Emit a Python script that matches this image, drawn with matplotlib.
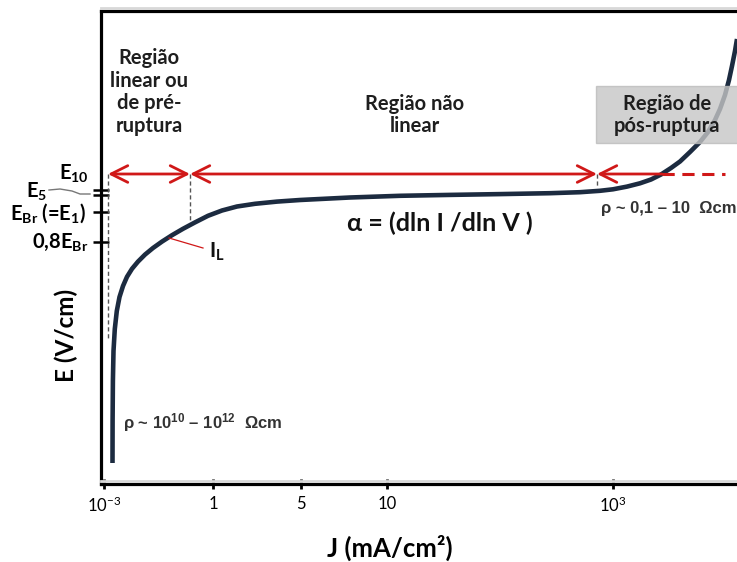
import numpy as np
import matplotlib
matplotlib.use("Agg")
import matplotlib.pyplot as plt
from matplotlib.patches import Rectangle
from matplotlib.lines import Line2D

plt.rcParams['font.family'] = ['Lato', 'DejaVu Sans']
plt.rcParams['mathtext.fontset'] = 'custom'
plt.rcParams['mathtext.rm'] = 'Lato'
plt.rcParams['mathtext.bf'] = 'Lato:bold'
plt.rcParams['mathtext.default'] = 'regular'

# axis units: schematic positions along J (x) and E (y)
x_ticks = [3, 112, 200, 286, 512]
x_ticklabels = ['$10^{-3}$', '1', '5', '10', '$10^{3}$']
y_ticks = [294, 289, 272, 242]

# I-V curve of the varistor (schematic)
curve_x = [11.5, 11.6, 11.9, 12.5, 13.8, 15.8, 18.5, 22, 26, 31, 37, 44, 52, 61, 71, 82, 94,
           107, 121, 136, 154, 176, 199, 249, 299, 349, 399, 449, 479, 499, 512, 526, 539, 550,
           560, 570, 579, 589, 599, 607, 614, 619, 624, 628, 631, 634, 636]
curve_y = [21, 63, 103, 133, 155, 173, 187, 198, 207.2, 215.2, 222.4, 229.4, 236, 242.4, 248.8,
           255.2, 261.6, 268.2, 273.5, 277.5, 280.2, 282.4, 284, 286.5, 288.2, 289.1, 289.9,
           290.8, 291.8, 293.2, 294.7, 297.4, 300.7, 304.5, 309.5, 316, 322.5, 332, 342, 352,
           364, 375, 389, 404, 418, 433, 445]

arrow_y = 310
region_bounds = [7, 89, 496]      # limits of the three regions
dash_tops = [145, 264, 298]        # bottoms of the dashed markers
solid_end = 561
dash_end = 624

red = '#d01818'
navy = '#1c2b40'
txt = '#1e1e1e'

fig = plt.figure(figsize=(7.37, 5.62), dpi=100)
ax = fig.add_axes([101 / 737, 1 - 484 / 562, 1 - 101 / 737, (484 - 11) / 562])
ax.set_xlim(0, 636)
ax.set_ylim(0, 473)

# soft shadow along the frame lines
fig.add_artist(Line2D([101 / 737, 1], [1 - 8 / 562, 1 - 8 / 562], color='#d8d8d8', lw=2))
fig.add_artist(Line2D([101 / 737, 1], [1 - 481 / 562, 1 - 481 / 562], color='#d8d8d8', lw=2))

for s in ['left', 'top', 'bottom']:
    ax.spines[s].set_linewidth(2.3)
ax.spines['right'].set_visible(False)

ax.set_xticks(x_ticks)
ax.set_xticklabels(x_ticklabels, fontsize=12)
ax.tick_params(axis='x', direction='inout', length=7, width=2, pad=5)
ax.set_yticks(y_ticks)
ax.set_yticklabels([])
ax.tick_params(axis='y', direction='inout', length=11, width=1.8)

ax.set_xlabel('J (mA/cm²)', fontsize=18.5, fontweight='bold')
ax.xaxis.set_label_coords(0.454, -0.108)
ax.set_ylabel('E (V/cm)', fontsize=17.5, fontweight='bold')
ax.yaxis.set_label_coords(-0.036, 0.315)

# curve
ax.plot(curve_x, curve_y, color=navy, lw=3.3, solid_capstyle='butt', solid_joinstyle='round', zorder=3)

# dashed markers
for xb, yb in zip(region_bounds, dash_tops):
    ax.plot([xb, xb], [arrow_y, yb], color='#555555', lw=1, ls=(0, (3, 2)), zorder=2)

# red arrows
aprops = dict(arrowstyle='<->, head_length=0.6, head_width=0.3', color=red, lw=2,
              shrinkA=0, shrinkB=0, mutation_scale=20)
ax.annotate('', xy=(region_bounds[0], arrow_y), xytext=(region_bounds[1], arrow_y), arrowprops=aprops, zorder=4)
ax.annotate('', xy=(region_bounds[1], arrow_y), xytext=(region_bounds[2], arrow_y), arrowprops=aprops, zorder=4)
ax.annotate('', xy=(region_bounds[2], arrow_y), xytext=(solid_end, arrow_y),
            arrowprops=dict(arrowstyle='->, head_length=0.6, head_width=0.3', color=red, lw=2,
                            shrinkA=0, shrinkB=0, mutation_scale=20), zorder=4)
ax.plot([solid_end, dash_end], [arrow_y, arrow_y], color=red, lw=2.2, ls=(0, (4, 2.5)), zorder=4)

# grey box for post-breakdown region
ax.add_patch(Rectangle((495, 341), 160, 57, facecolor='#c6c6c6', edgecolor='#bbbbbb',
                       alpha=0.8, zorder=5, clip_on=False))
ax.text(566, 369, 'Região de\npós-ruptura', ha='center', va='center', fontsize=14.5,
        fontweight='bold', color=txt, linespacing=1.15, zorder=6)

ax.text(48, 392, 'Região\nlinear ou\nde pré-\nruptura', ha='center', va='center', fontsize=14.5,
        fontweight='bold', color=txt, linespacing=1.15)
ax.text(314, 369, 'Região não\nlinear', ha='center', va='center', fontsize=14.5,
        fontweight='bold', color=txt, linespacing=1.15)
ax.text(339, 261, 'α = (dln I /dln V )', ha='center', va='center', fontsize=18,
        fontweight='bold', color='#111111')

ax.text(500, 276, 'ρ ~ 0,1 – 10  Ωcm', ha='left', va='center', fontsize=12,
        family=['Liberation Sans', 'DejaVu Sans'], fontweight='bold', color='#333333')
ax.text(22, 61, 'ρ ~ 10$^{10}$ – 10$^{12}$  Ωcm', ha='left', va='center', fontsize=12,
        family=['Liberation Sans', 'DejaVu Sans'], fontweight='bold', color='#333333')

# I_L marker
ax.plot([68, 102], [246, 236], color=red, lw=0.9, zorder=4)
ax.text(108, 232, r'$\mathbf{I}_{\mathbf{L}}$', ha='left', va='center', fontsize=15, color='#111111')

# y tick labels
ax.text(-12, 311, r'$\mathbf{E}_{\mathbf{10}}$', ha='right', va='center', fontsize=14.5, clip_on=False)
ax.text(-54, 293, r'$\mathbf{E}_{\mathbf{5}}$', ha='right', va='center', fontsize=14.5, clip_on=False)
ax.text(-15, 271, r'$\mathbf{E}_{\mathbf{Br}}$ (=$\mathbf{E}_{\mathbf{1}}$)', ha='right', va='center',
        fontsize=14.5, fontweight='bold', clip_on=False)
ax.text(-13, 242, r'0,8$\mathbf{E}_{\mathbf{Br}}$', ha='right', va='center', fontsize=14.5,
        fontweight='bold', clip_on=False)
ax.plot([-52, -41, -29, -21, -11], [294, 295, 293, 290, 290], color='#777777', lw=1, clip_on=False)

fig.savefig('out.png', dpi=100)
